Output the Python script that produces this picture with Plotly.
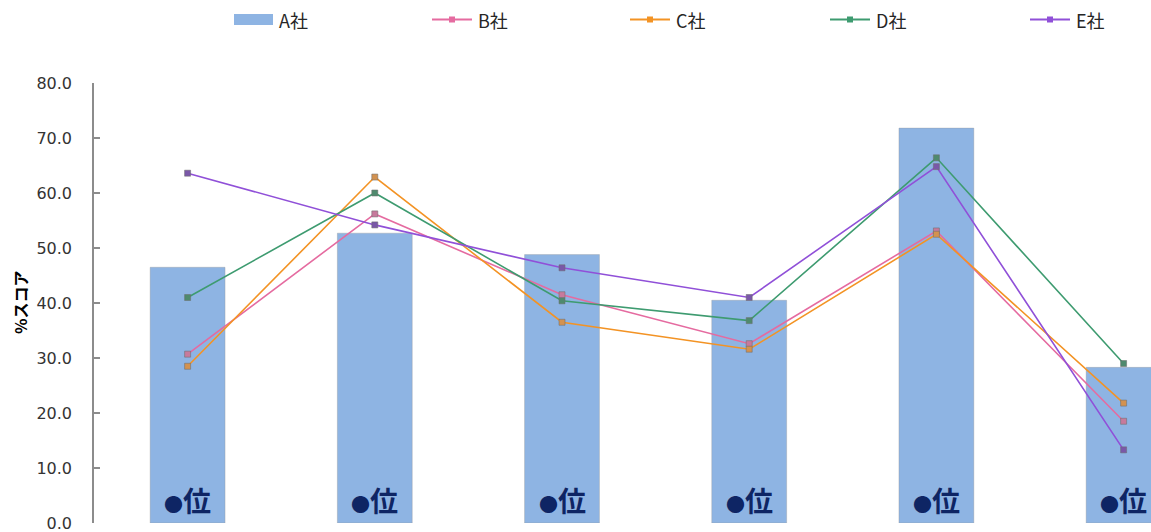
import plotly.graph_objects as go

# ---- data ----
categories = ["項目1", "項目2", "項目3", "項目4", "項目5", "項目6"]
a_scores = [46.5, 52.7, 48.8, 40.5, 71.8, 28.3]
b_scores = [30.7, 56.2, 41.5, 32.6, 53.1, 18.5]
c_scores = [28.5, 62.9, 36.5, 31.6, 52.5, 21.8]
d_scores = [41.0, 60.0, 40.4, 36.8, 66.4, 29.0]
e_scores = [63.6, 54.2, 46.4, 41.0, 64.8, 13.3]
rank_labels = ["●位", "●位", "●位", "●位", "●位", "●位"]
y_ticks = [0, 10, 20, 30, 40, 50, 60, 70, 80]

series = [
    ("B社", b_scores, "#E56BA0", "#C77A9C"),
    ("C社", c_scores, "#F39324", "#D39250"),
    ("D社", d_scores, "#3E9B70", "#4F8A6E"),
    ("E社", e_scores, "#9050D8", "#7A58A8"),
]
bar_color = "#8EB4E3"

W, H = 1151, 532
ML, MR, MT, MB = 94, 0, 83, 9
PW, PH = W - ML - MR, H - MT - MB

JP = "Noto Sans CJK JP"


def px(x):
    return (x - ML) / PW


def py(y):
    return (H - MB - y) / PH


xs = list(range(len(categories)))

fig = go.Figure()
fig.add_trace(go.Bar(
    x=xs, y=a_scores, name="A社", width=0.4,
    marker=dict(color=bar_color, line=dict(color="rgba(150,150,150,0.35)", width=1)),
    showlegend=False,
))
for name, vals, lc, mc in series:
    fig.add_trace(go.Scatter(
        x=xs, y=vals, name=name, mode="lines+markers",
        line=dict(color=lc, width=1.6),
        marker=dict(symbol="square", size=6, color=mc,
                    line=dict(color="rgba(110,110,110,0.55)", width=1)),
        showlegend=False,
    ))


def rank_markup(label):
    # smaller disc in front of the rank character
    return f"<span style='font-size:19px'>{label[0]}</span>{label[1:]}"


annotations = []
for i, lab in enumerate(rank_labels):
    annotations.append(dict(
        x=xs[i], y=4.2, xref="x", yref="y", text=rank_markup(lab), showarrow=False,
        font=dict(family=JP, size=28, color="#0E2564", weight="bold"),
        xanchor="center", yanchor="middle",
    ))

# y-axis title
annotations.append(dict(
    x=px(20), y=py(303), xref="paper", yref="paper", text="%スコア",
    textangle=-90, showarrow=False,
    font=dict(family=JP, size=16, color="#000000", weight="bold"),
    xanchor="center", yanchor="middle",
))

# legend row
shapes = []
legend_x = [234, 432, 630, 830, 1030]
legend_y = 19.5
shapes.append(dict(type="rect", xref="paper", yref="paper",
                   x0=px(legend_x[0]), x1=px(legend_x[0] + 39),
                   y0=py(legend_y + 5.5), y1=py(legend_y - 5.5),
                   fillcolor=bar_color, line=dict(width=0)))
annotations.append(dict(
    x=px(legend_x[0] + 43), y=py(legend_y), xref="paper", yref="paper",
    text="A社", showarrow=False, xanchor="left", yanchor="middle",
    font=dict(family=JP, size=18, color="#262626"),
))
for (name, vals, lc, mc), lx in zip(series, legend_x[1:]):
    shapes.append(dict(type="line", xref="paper", yref="paper",
                       x0=px(lx), x1=px(lx + 40), y0=py(legend_y), y1=py(legend_y),
                       line=dict(color=lc, width=1.8)))
    shapes.append(dict(type="rect", xref="paper", yref="paper",
                       x0=px(lx + 17), x1=px(lx + 23),
                       y0=py(legend_y + 3), y1=py(legend_y - 3),
                       fillcolor=lc, line=dict(width=0)))
    annotations.append(dict(
        x=px(lx + 44), y=py(legend_y), xref="paper", yref="paper",
        text=name, showarrow=False, xanchor="left", yanchor="middle",
        font=dict(family=JP, size=18, color="#262626"),
    ))

fig.update_layout(
    width=W, height=H,
    margin=dict(l=ML, r=MR, t=MT, b=MB, pad=0),
    paper_bgcolor="white", plot_bgcolor="white",
    bargap=0.6,
    annotations=annotations, shapes=shapes,
    xaxis=dict(range=[-0.5, (W - ML) / 187.2 - 0.5], showticklabels=False,
               showgrid=False, zeroline=False, showline=False, ticks=""),
    yaxis=dict(range=[0, 80], tickvals=y_ticks,
               ticktext=[f"{v:.1f}" for v in y_ticks],
               showgrid=False, zeroline=False,
               showline=True, linecolor="#8C8C8C", linewidth=1.5,
               ticks="inside", ticklen=6, tickcolor="#8C8C8C", tickwidth=1.5,
               ticklabelstandoff=17, ticklabeloverflow="allow",
               tickfont=dict(family="DejaVu Sans", size=16, color="#333333")),
)

fig.write_html("out.html")
